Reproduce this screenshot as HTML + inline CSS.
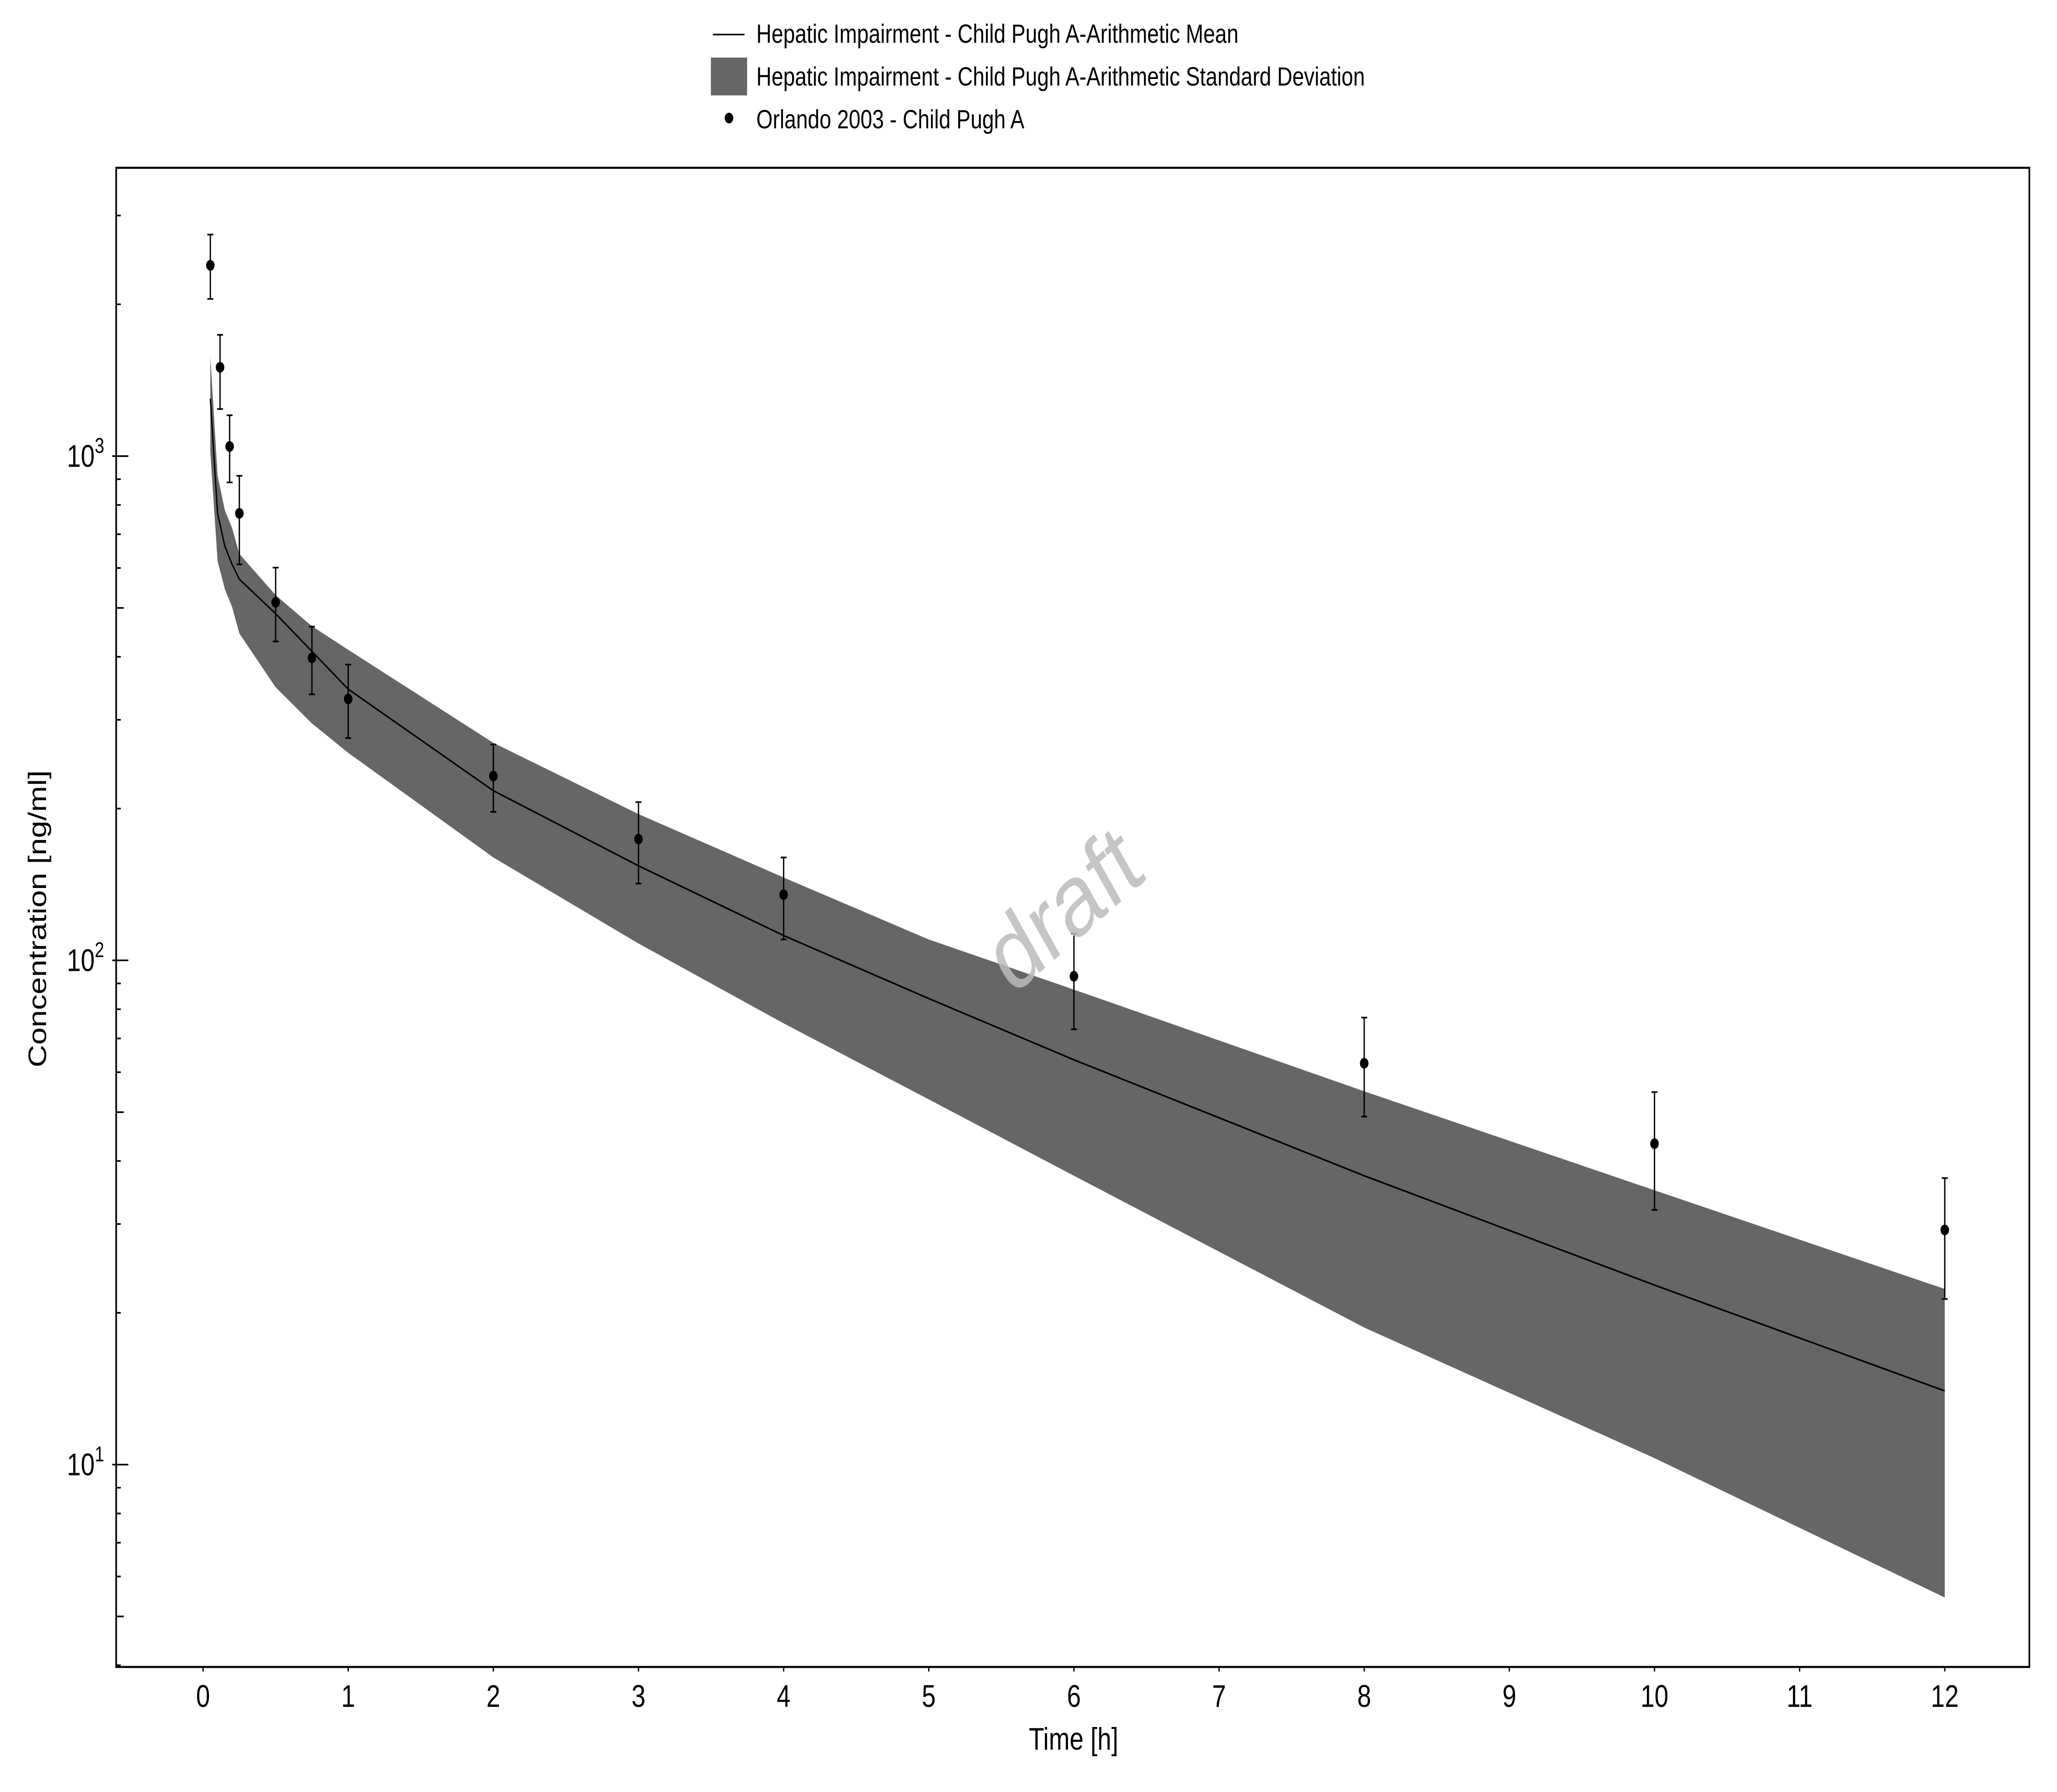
<!DOCTYPE html>
<html><head><meta charset="utf-8"><style>
html,body{margin:0;padding:0;background:#fff;width:100%;height:100%;overflow:hidden;}
svg{display:block;position:fixed;left:0;top:0;width:100vw;height:100vh;font-family:"Liberation Sans",sans-serif;}
</style></head><body>
<svg id="chart" viewBox="0 0 6250 4357" preserveAspectRatio="none" xmlns="http://www.w3.org/2000/svg">
<rect x="0" y="0" width="6250" height="4357" fill="#fff"/>
<g id="legend">
 <g>
  <line x1="2166" y1="84" x2="2262" y2="84" stroke="#000" stroke-width="4"/>
  <text x="2298" y="104" font-size="64">Hepatic Impairment - Child Pugh A-Arithmetic Mean</text>
 </g>
 <g>
  <rect x="2160" y="140" width="110" height="92" fill="#666"/>
  <text x="2298" y="208" font-size="64">Hepatic Impairment - Child Pugh A-Arithmetic Standard Deviation</text>
 </g>
 <g>
  <circle cx="2215" cy="287" r="13" fill="#000"/>
  <text x="2298" y="312" font-size="64">Orlando 2003 - Child Pugh A</text>
 </g>
</g>
<g id="plot"></g>
<rect x="353" y="408" width="5813" height="3645" fill="none" stroke="#000" stroke-width="5"/>
<text x="3262" y="4254" font-size="76" text-anchor="middle">Time [h]</text>
<text x="0" y="0" font-size="76" text-anchor="middle" transform="translate(140,2234) rotate(-90)">Concentration [ng/ml]</text>
<text x="0" y="0" font-size="250" fill="#bbb" fill-opacity="0.85" text-anchor="middle" transform="translate(3280,2280) rotate(-35)">draft</text>
</svg>
<script>
const obsTimes = [0.05,0.117,0.183,0.25,0.5,0.75,1,2,3,4,6,8,10,12];
const obsValues = [2390,1500,1045,770,513,398,330,232,174,135,93,62.5,43.3,29.2];
const obsUpper = [2750,1740,1205,914,601,459,386,268,206,160,113,77,54.8,37];
const obsLower = [2050,1240,887,610,429,337,276,197,142,110,73,49,32,21.3];
const simTimes = [0.05,0.1,0.15,0.2,0.25,0.5,0.75,1,2,3,4,5,6,8,10,12];
const meanValues = [1300,770,663,610,570,487,410,345,217,154,112,84,63.5,37.4,22.7,14];
const sdUpper = [1580,915,781,720,640,530,460,413,270,195,146,110,87.5,55,35,22.3];
const sdLower = [1020,619,545,502,445,348,295,258,160,108,75,53,37.4,18.7,10.3,5.45];
const xTicks = [0,1,2,3,4,5,6,7,8,9,10,11,12];
const yMajor = [1,2,3];

const X0=617, XPH=441, Y3=1109, DEC=1226;
const xs = t => X0 + t*XPH;
const ys = v => Y3 - (Math.log10(v)-3)*DEC;
const NS="http://www.w3.org/2000/svg";
const plot=document.getElementById('plot');
function mk(tag,attrs,parent){const e=document.createElementNS(NS,tag);for(const k in attrs)e.setAttribute(k,attrs[k]);(parent||plot).appendChild(e);return e;}

let d='M'+simTimes.map((t,i)=>xs(t)+','+ys(sdUpper[i])).join(' L');
for(let i=simTimes.length-1;i>=0;i--) d+=' L'+xs(simTimes[i])+','+ys(sdLower[i]);
d+=' Z';
const band=mk('path',{d:d,fill:'#666'});


const ml=mk('polyline',{points:simTimes.map((t,i)=>xs(t)+','+ys(meanValues[i])).join(' '),fill:'none',stroke:'#000','stroke-width':4});


obsTimes.forEach((t,i)=>{
 const g=mk('g',{});
 
 
 const x=xs(t),yu=ys(obsUpper[i]),yl=ys(obsLower[i]);
 mk('line',{x1:x,y1:yu,x2:x,y2:yl,stroke:'#000','stroke-width':4},g);
 mk('line',{x1:x-9,y1:yu,x2:x+9,y2:yu,stroke:'#000','stroke-width':4},g);
 mk('line',{x1:x-9,y1:yl,x2:x+9,y2:yl,stroke:'#000','stroke-width':4},g);
 mk('circle',{cx:x,cy:ys(obsValues[i]),r:13,fill:'#000'},g);
});
xTicks.forEach(t=>{
 const x=xs(t);
 const tk=mk('line',{x1:x,y1:4053,x2:x,y2:4064,stroke:'#000','stroke-width':4});
 
 
 const lb=mk('text',{x:x,y:4150,'font-size':76,'text-anchor':'middle'});
 lb.textContent=t;
 
 
});
for(let e=0;e<=3;e++){
 for(let m=1;m<=9;m++){
  const v=m*Math.pow(10,e);
  const y=ys(v);
  if(y<412||y>4050) continue;
  const len = m===1?37:(m===5?23:14);
  const tk=mk('line',{x1:353,y1:y,x2:353+len,y2:y,stroke:'#000','stroke-width':4});
  
  
 }
}
yMajor.forEach(e=>{
 const y=ys(Math.pow(10,e));
 mk('line',{x1:341,y1:y,x2:353,y2:y,stroke:'#000','stroke-width':4});
 const lb=mk('text',{x:260,y:y+26,'font-size':76,'text-anchor':'middle'});
 lb.textContent='10';
 const sup=mk('tspan',{dy:-34,'font-size':52},lb);
 sup.textContent=e;
 
 
});
</script>
</body></html>
